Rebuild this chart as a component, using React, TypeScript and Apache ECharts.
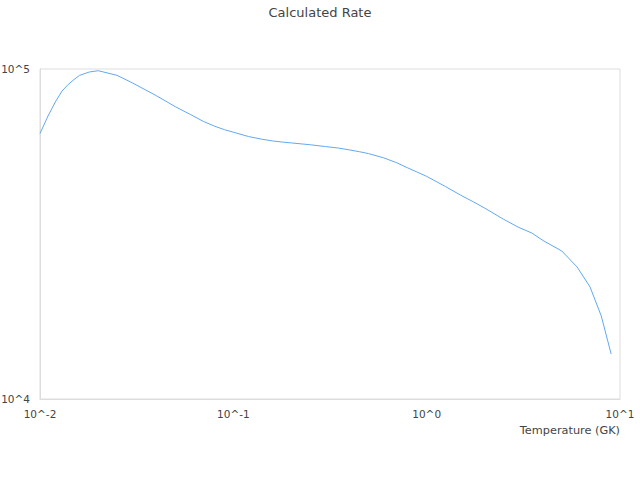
import React, { useEffect, useRef } from "react";
import * as echarts from "echarts";

const temperatures: number[] = [
  0.01, 0.011, 0.012, 0.013, 0.014, 0.015, 0.016, 0.018, 0.02, 0.025, 0.03, 0.04, 0.05, 0.06, 0.07, 0.08, 0.09,
  0.1, 0.12, 0.14, 0.16, 0.18, 0.2, 0.25, 0.3, 0.35, 0.4, 0.45, 0.5, 0.6, 0.7, 0.8, 0.9,
  1, 1.25, 1.5, 1.75, 2, 2.5, 3, 3.5, 4, 5, 6, 7, 8, 9,
];

const rates: number[] = [
  63750, 72050, 79430, 85770, 89780, 92940, 95630, 97930, 98820, 95700, 90820, 83000, 76930, 72800, 69380, 67100, 65480,
  64350, 62410, 61290, 60520, 60060, 59690, 58940, 58200, 57600, 56840, 56130, 55430, 53790, 51990, 50120, 48610,
  47270, 44050, 41450, 39540, 37860, 35040, 33090, 31840, 30210, 28080, 25120, 21850, 17850, 13690,
];

const titleText = "Calculated Rate";
const xAxisName = "Temperature (GK)";

export default function App() {
  const ref = useRef<HTMLDivElement>(null);
  useEffect(() => {
    if (!ref.current) return;
    const chart = echarts.init(ref.current, undefined, { renderer: "svg" });
    const fmt = (v: number) => "10^" + Math.round(Math.log10(v));
    chart.setOption({
      animation: false,
      textStyle: { fontFamily: "DejaVu Sans, sans-serif" },
      title: {
        text: titleText,
        left: "center",
        top: 1,
        textStyle: { fontSize: 13, fontWeight: "normal", color: "#444" },
      },
      grid: {
        left: 40,
        right: 20,
        top: 69,
        bottom: 81,
        show: true,
        borderColor: "#ddd",
        borderWidth: 1,
        containLabel: false,
        outerBoundsMode: "none",
      },
      xAxis: {
        type: "log",
        logBase: 10,
        min: 0.01,
        max: 10,
        name: xAxisName,
        nameLocation: "end",
        nameGap: 0,
        nameTextStyle: {
          color: "#444",
          fontSize: 11.3,
          align: "right",
          verticalAlign: "top",
          padding: [26, 0, 0, 0],
        },
        axisLine: { show: true, lineStyle: { color: "#ddd" } },
        axisTick: { show: false },
        splitLine: { show: false },
        axisLabel: { color: "#444", fontSize: 10.5, margin: 9, formatter: fmt },
      },
      yAxis: {
        type: "log",
        logBase: 10,
        min: 10000,
        max: 100000,
        axisLine: { show: true, lineStyle: { color: "#ddd" } },
        axisTick: { show: false },
        splitLine: { show: false },
        axisLabel: { color: "#444", fontSize: 10.5, margin: 10, formatter: fmt },
      },
      series: [
        {
          type: "line",
          data: temperatures.map((t, i) => [t, rates[i]]),
          showSymbol: false,
          smooth: false,
          lineStyle: { color: "#62a8f2", width: 1 },
          itemStyle: { color: "#62a8f2" },
        },
      ],
    });
    return () => chart.dispose();
  }, []);
  return (
    <div
      ref={ref}
      style={{ position: "fixed", left: 0, top: 0, width: 640, height: 480, background: "#fff" }}
    />
  );
}
